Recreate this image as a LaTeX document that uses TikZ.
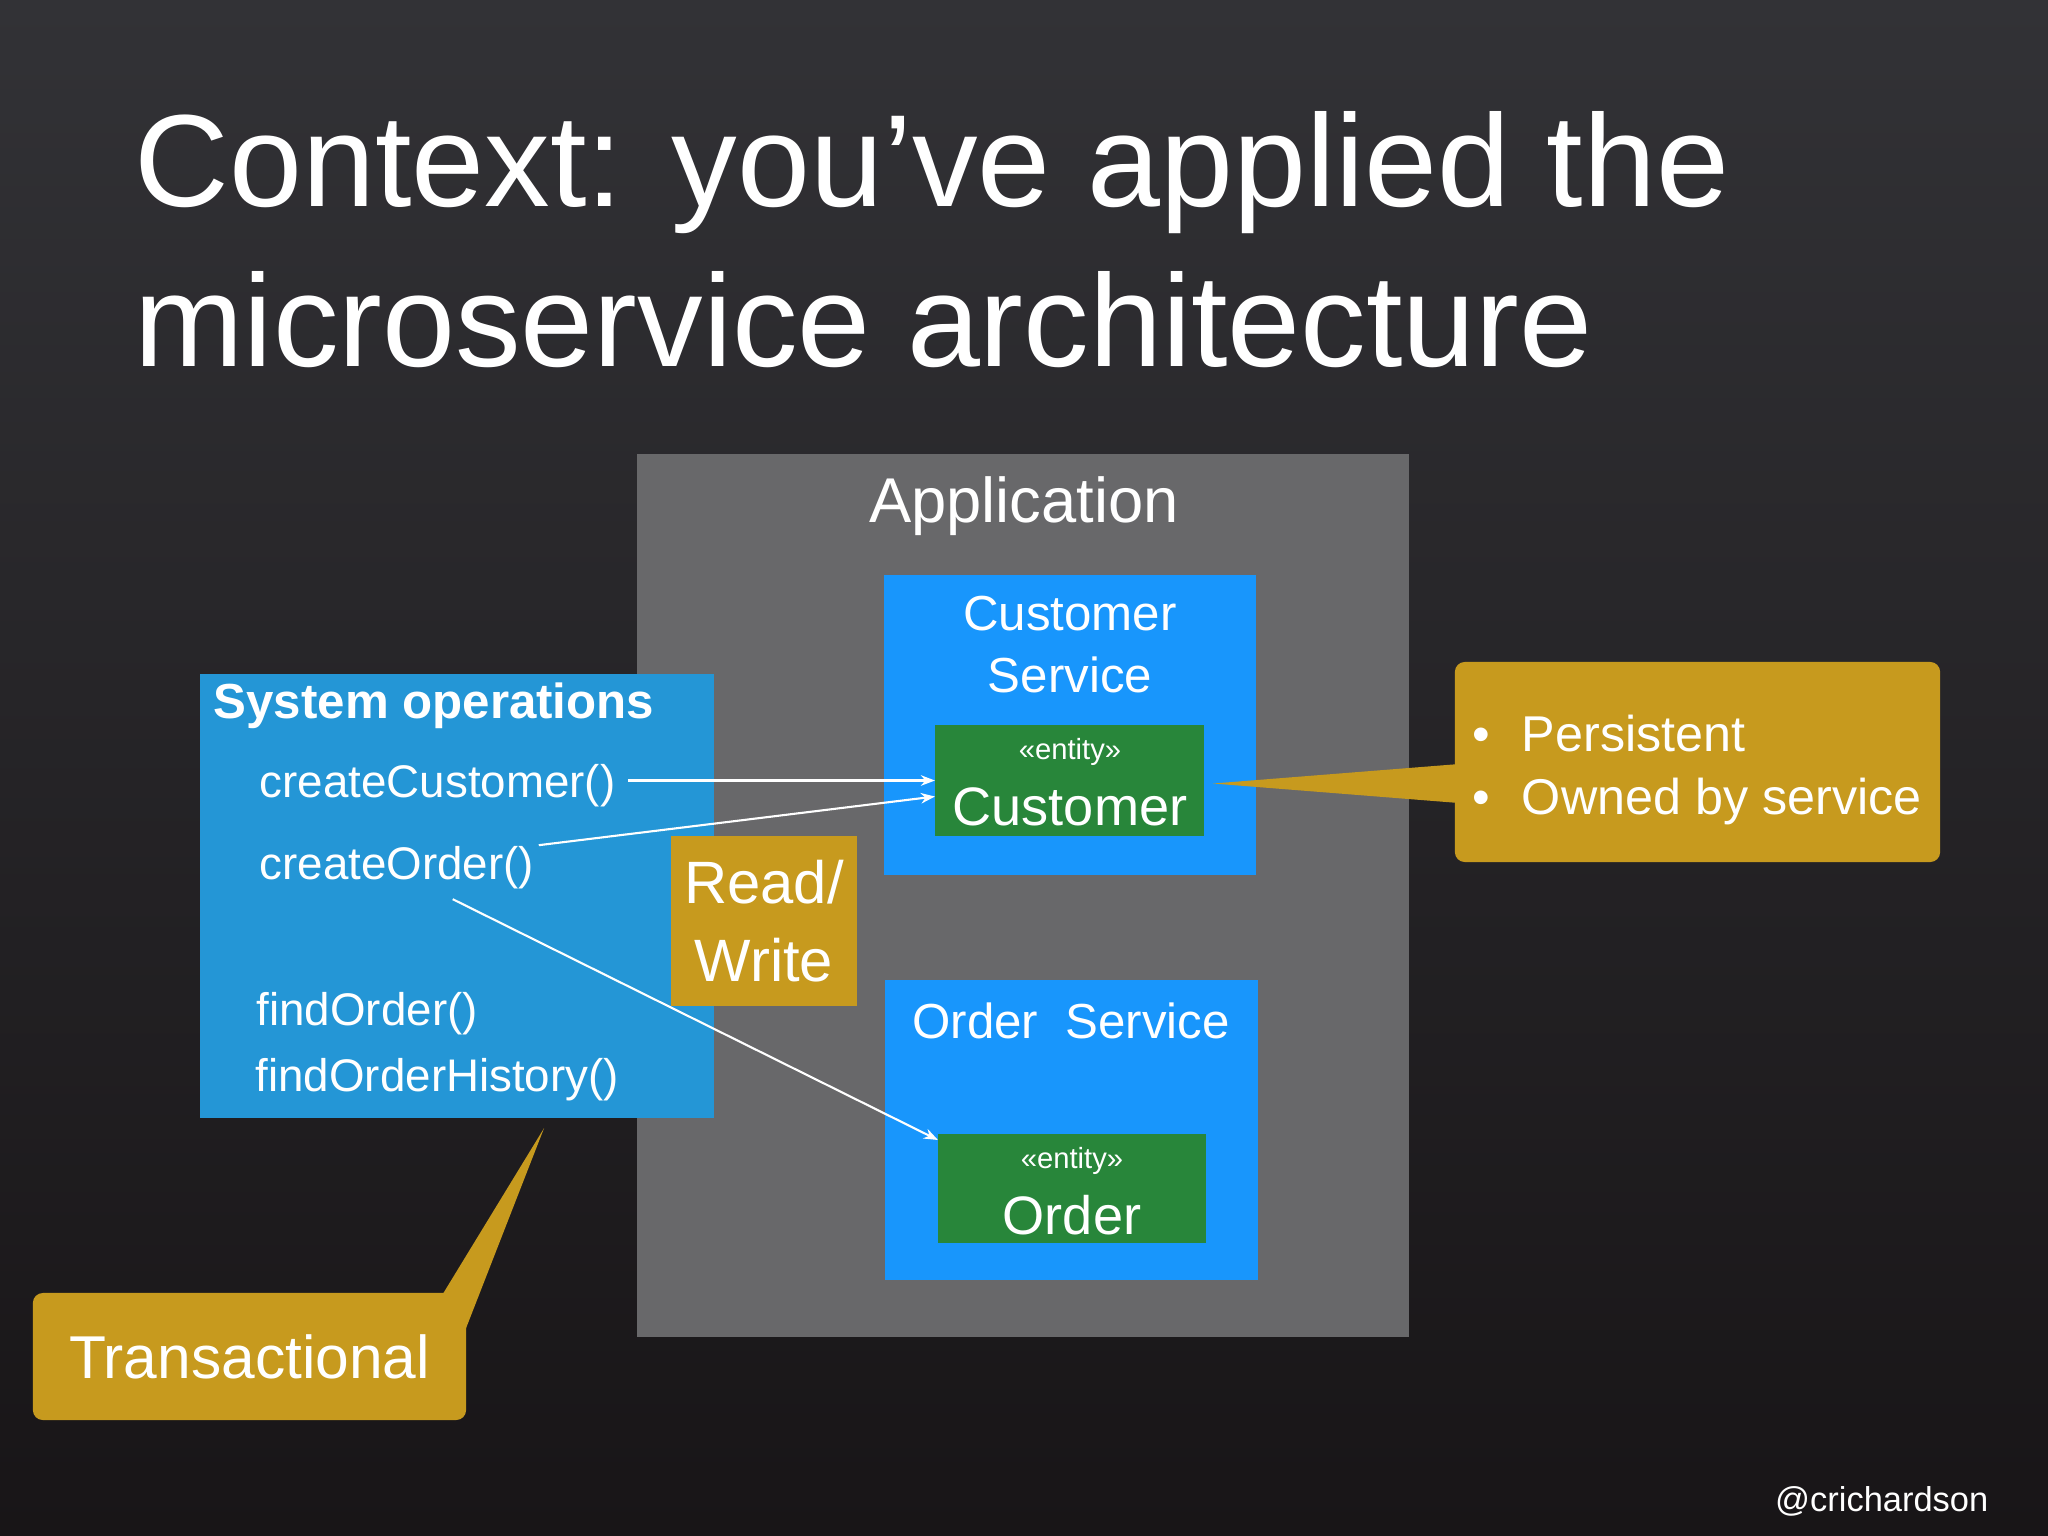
\documentclass[tikz,border=0pt]{standalone}
\usepackage{fontspec}
\setmainfont{Liberation Sans}
\usepackage{tikz}
\usetikzlibrary{arrows.meta}

\definecolor{bgtop}{RGB}{50,50,54}
\definecolor{bgbot}{RGB}{24,21,23}
\definecolor{appgray}{RGB}{104,104,106}
\definecolor{opsblue}{RGB}{36,150,214}
\definecolor{svcblue}{RGB}{24,150,252}
\definecolor{entgreen}{RGB}{40,134,58}
\definecolor{notegold}{RGB}{199,154,30}

\begin{document}
\begin{tikzpicture}[x=0.01cm, y=-0.01cm,
  txt/.style={text=white, inner sep=0pt},
  box/.style={inner sep=0pt, outer sep=0pt},
  note/.style={fill=notegold, rounded corners=0.1cm, inner sep=0pt},
  flow/.style={draw=white, line width=0.6pt, -{Stealth[length=4pt,width=3pt]}}]
\useasboundingbox (0,0) rectangle (2048,1536);
\shade[top color=bgtop, bottom color=bgbot] (0,0) rectangle (2048,1536);

% title
\node[txt, anchor=base west, font=\fontsize{37.3}{45}\selectfont] (title1) at (134,206) {Context: you’ve applied the};
\node[txt, anchor=base west, font=\fontsize{37.3}{45}\selectfont] (title2) at (134,366) {microservice architecture};

% application
\node[box, fill=appgray, minimum width=7.72cm, minimum height=8.83cm] (app) at (1023,895.5) {};
\node[txt, anchor=base, font=\fontsize{18}{22}\selectfont] (app-l) at (1024,522) {Application};

% system operations
\node[box, fill=opsblue, minimum width=5.14cm, minimum height=4.44cm] (ops) at (457,896) {};
\node[txt, anchor=base west, font=\fontsize{14}{17}\selectfont\bfseries] (ops-l) at (213,718) {System operations};
\node[txt, anchor=base west, font=\fontsize{13}{16}\selectfont] (cc) at (259,797) {createCustomer()};
\node[txt, anchor=base west, font=\fontsize{13}{16}\selectfont] (co) at (259,879) {createOrder()};
\node[txt, anchor=base west, font=\fontsize{13}{16}\selectfont] (fo) at (256,1025) {findOrder()};
\node[txt, anchor=base west, font=\fontsize{13}{16}\selectfont] (foh) at (255,1091) {findOrderHistory()};

\node[box, fill=notegold, text=white, minimum width=1.86cm, minimum height=1.70cm, align=center,
  font=\fontsize{17}{22}\selectfont] (rw) at (764,921) {Read/\\Write};

% services
\node[box, fill=svcblue, minimum width=3.72cm, minimum height=3.00cm] (csvc) at (1070,725) {};
\node[txt, anchor=base, align=center, font=\fontsize{14}{17.4}\selectfont] (csvc-l) at (1070,692) {Customer\\Service};
\node[box, fill=entgreen, minimum width=2.69cm, minimum height=1.11cm] (cust) at (1069.5,780.5) {};
\node[txt, anchor=base, font=\fontsize{8.3}{10}\selectfont] (cust-st) at (1070,759) {«entity»};
\node[txt, anchor=base, font=\fontsize{15.4}{18}\selectfont] (cust-l) at (1070,825) {Customer};

\node[box, fill=svcblue, minimum width=3.73cm, minimum height=3.00cm] (osvc) at (1071.5,1130) {};
\node[txt, anchor=base, font=\fontsize{14}{17}\selectfont] (osvc-l) at (1071,1038) {Order~~Service};
\node[box, fill=entgreen, minimum width=2.68cm, minimum height=1.09cm] (ord) at (1072,1188.5) {};
\node[txt, anchor=base, font=\fontsize{8.3}{10}\selectfont] (ord-st) at (1072,1168) {«entity»};
\node[txt, anchor=base, font=\fontsize{15.4}{18}\selectfont] (ord-l) at (1072,1234) {Order};

% calls
\draw[flow] ([xshift=0.12cm]cc.east |- cust.west) -- (cust.west);
\draw[flow] ([xshift=0.04cm]co.north east) -- ([yshift=-0.16cm]cust.west);
\coordinate (co-out) at ([xshift=-0.82cm,yshift=-0.1cm]co.south east);
\draw[flow] (co-out) -- ([yshift=-0.06cm]ord.north west);

% callouts
\node[note, minimum width=4.85cm, minimum height=2.00cm] (note1) at (1697.5,762) {};
\coordinate (note1-tip) at ([xshift=0.09cm,yshift=-0.03cm]cust.east);
\fill[notegold] ([xshift=0.05cm,yshift=-0.02cm]note1.west) -- (note1-tip) -- ([xshift=0.05cm,yshift=-0.41cm]note1.west) -- cycle;
\node[txt, anchor=base west, align=left, font=\fontsize{14.3}{17.9}\selectfont] (note1-l) at (1472,814)
  {•\hspace{9pt}Persistent\\•\hspace{9pt}Owned by service};

\node[note, minimum width=4.33cm, minimum height=1.27cm, text=white, font=\fontsize{17.2}{20}\selectfont] (trans) at (249.5,1356.5) {Transactional};
\coordinate (trans-tip) at ([xshift=0.87cm,yshift=-0.1cm]ops.south);
\fill[notegold] ([xshift=-0.26cm,yshift=-0.05cm]trans.north east) -- (trans-tip) -- ([xshift=-0.02cm,yshift=-0.39cm]trans.north east) -- cycle;

\node[txt, anchor=base east, font=\fontsize{9.8}{12}\selectfont] (handle) at (1989,1511) {@crichardson};
\end{tikzpicture}
\end{document}
